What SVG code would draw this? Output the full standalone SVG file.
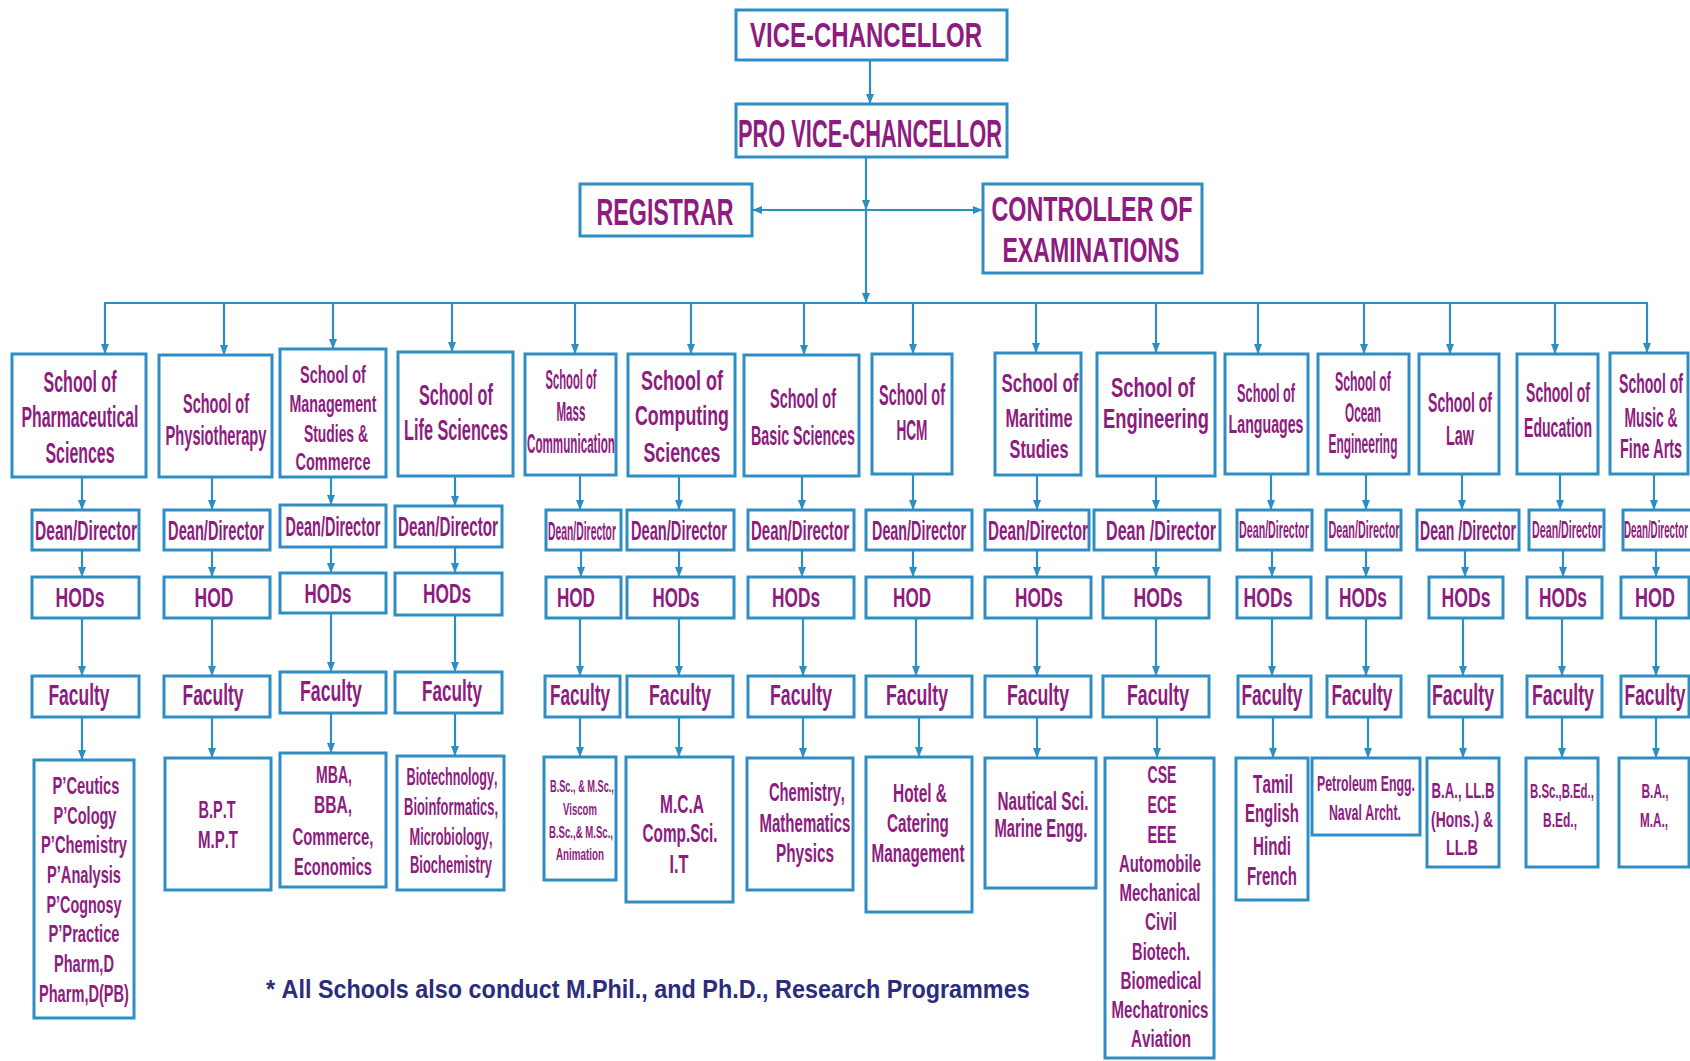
<svg xmlns="http://www.w3.org/2000/svg" width="1690" height="1061" viewBox="0 0 1690 1061">
<defs>
<style>
.box{fill:#ffffff;stroke:#2e8ec4;stroke-width:3}
.t{font-family:"Liberation Sans",Arial,sans-serif;font-weight:bold;fill:#8e1b7e;text-anchor:middle;font-kerning:none}
.c{fill:none;stroke:#2e8ec4;stroke-width:2.2}
.a{marker-end:url(#ah)}
.note{font-family:"Liberation Sans",Arial,sans-serif;font-weight:bold;fill:#2b2d7c;font-kerning:none}
</style>
<marker id="ah" markerWidth="10" markerHeight="10" refX="9" refY="5" orient="auto" markerUnits="userSpaceOnUse">
<path d="M0,1 L10,5 L0,9 z" fill="#2e8ec4"/>
</marker>
</defs>
<rect width="1690" height="1061" fill="#ffffff"/>

<g id="connectors">
<path class="c a" d="M870,61 V103"/>
<path class="c a" d="M866,158 V209"/>
<path class="c a" d="M866,210 V302"/>
<path class="c a" d="M866,210 H753"/>
<path class="c a" d="M866,210 H982"/>
<path class="c" d="M104,303 H1648"/>
<path class="c a" d="M105,303 V353"/>
<path class="c a" d="M224,303 V354"/>
<path class="c a" d="M333,303 V348"/>
<path class="c a" d="M452,303 V351"/>
<path class="c a" d="M575,303 V353"/>
<path class="c a" d="M691,303 V353"/>
<path class="c a" d="M804,303 V354"/>
<path class="c a" d="M913,303 V353"/>
<path class="c a" d="M1036,303 V352"/>
<path class="c a" d="M1156,303 V352"/>
<path class="c a" d="M1258,303 V353"/>
<path class="c a" d="M1364,303 V353"/>
<path class="c a" d="M1450,303 V353"/>
<path class="c a" d="M1555,303 V353"/>
<path class="c a" d="M1647,303 V352"/>
<path class="c a" d="M82,477 V509"/><path class="c a" d="M82,550 V576"/><path class="c a" d="M82,618 V675"/><path class="c a" d="M82,717 V759"/>
<path class="c a" d="M212,477 V509"/><path class="c a" d="M212,550 V576"/><path class="c a" d="M212,618 V675"/><path class="c a" d="M212,717 V757"/>
<path class="c a" d="M331,477 V504"/><path class="c a" d="M331,547 V572"/><path class="c a" d="M331,613 V671"/><path class="c a" d="M331,713 V752"/>
<path class="c a" d="M455,476 V505"/><path class="c a" d="M455,547 V572"/><path class="c a" d="M455,615 V671"/><path class="c a" d="M455,713 V755"/>
<path class="c a" d="M580,475 V509"/><path class="c a" d="M581,550 V576"/><path class="c a" d="M580,618 V675"/><path class="c a" d="M580,717 V756"/>
<path class="c a" d="M679,476 V509"/><path class="c a" d="M679,550 V576"/><path class="c a" d="M679,618 V675"/><path class="c a" d="M679,717 V756"/>
<path class="c a" d="M802,476 V509"/><path class="c a" d="M802,550 V576"/><path class="c a" d="M803,618 V675"/><path class="c a" d="M803,717 V757"/>
<path class="c a" d="M913,474 V509"/><path class="c a" d="M913,550 V576"/><path class="c a" d="M916,618 V675"/><path class="c a" d="M919,717 V756"/>
<path class="c a" d="M1037,475 V509"/><path class="c a" d="M1037,550 V576"/><path class="c a" d="M1037,618 V675"/><path class="c a" d="M1037,717 V757"/>
<path class="c a" d="M1156,476 V509"/><path class="c a" d="M1156,550 V576"/><path class="c a" d="M1156,618 V675"/><path class="c a" d="M1157,717 V757"/>
<path class="c a" d="M1271,474 V509"/><path class="c a" d="M1272,550 V576"/><path class="c a" d="M1272,618 V675"/><path class="c a" d="M1273,717 V757"/>
<path class="c a" d="M1366,474 V509"/><path class="c a" d="M1366,550 V576"/><path class="c a" d="M1366,618 V675"/><path class="c a" d="M1368,717 V757"/>
<path class="c a" d="M1462,474 V509"/><path class="c a" d="M1465,550 V576"/><path class="c a" d="M1463,618 V675"/><path class="c a" d="M1463,717 V757"/>
<path class="c a" d="M1560,474 V509"/><path class="c a" d="M1563,550 V576"/><path class="c a" d="M1562,618 V675"/><path class="c a" d="M1562,717 V757"/>
<path class="c a" d="M1654,474 V509"/><path class="c a" d="M1656,550 V576"/><path class="c a" d="M1656,618 V675"/><path class="c a" d="M1656,717 V757"/>
</g>

<g id="vice-chancellor"><rect class="box" x="736" y="10" width="271" height="50"/><text class="t" font-size="35" x="866" y="47" transform="matrix(0.6858,0,0,1,272.1,0)">VICE-CHANCELLOR</text></g>
<g id="pro-vice-chancellor"><rect class="box" x="736" y="104" width="271" height="53"/><text class="t" font-size="38" x="870" y="147" transform="matrix(0.5737,0,0,1,370.9,0)">PRO VICE-CHANCELLOR</text></g>
<g id="registrar"><rect class="box" x="580" y="184" width="172" height="52"/><text class="t" font-size="37" x="665" y="225" transform="matrix(0.6287,0,0,1,246.9,0)">REGISTRAR</text></g>
<g id="controller"><rect class="box" x="983" y="184" width="219" height="89"/><text class="t" font-size="36" x="1092" y="221" transform="matrix(0.6484,0,0,1,383.9,0)">CONTROLLER OF</text><text class="t" font-size="36" x="1091" y="262" transform="matrix(0.6413,0,0,1,391.3,0)">EXAMINATIONS</text></g>

<g id="school-pharm"><rect class="box" x="12" y="354" width="134" height="123"/>
<text class="t" font-size="29" x="80" y="392" transform="matrix(0.5526,0,0,1,35.8,0)">School of</text>
<text class="t" font-size="29" x="80" y="427" transform="matrix(0.5457,0,0,1,36.3,0)">Pharmaceutical</text>
<text class="t" font-size="29" x="80" y="463" transform="matrix(0.5489,0,0,1,36.1,0)">Sciences</text></g>
<g id="school-physio"><rect class="box" x="159" y="355" width="113" height="122"/>
<text class="t" font-size="28" x="216" y="413" transform="matrix(0.5173,0,0,1,104.3,0)">School of</text>
<text class="t" font-size="28" x="216" y="445" transform="matrix(0.5236,0,0,1,102.9,0)">Physiotherapy</text></g>
<g id="school-mgmt"><rect class="box" x="280" y="349" width="106" height="128"/>
<text class="t" font-size="24" x="333" y="383" transform="matrix(0.6038,0,0,1,131.9,0)">School of</text>
<text class="t" font-size="24" x="333" y="412" transform="matrix(0.5931,0,0,1,135.5,0)">Management</text>
<text class="t" font-size="24" x="336" y="442" transform="matrix(0.5782,0,0,1,141.7,0)">Studies &amp;</text>
<text class="t" font-size="24" x="333" y="470" transform="matrix(0.6048,0,0,1,131.6,0)">Commerce</text></g>
<g id="school-life"><rect class="box" x="398" y="352" width="115" height="124"/>
<text class="t" font-size="29" x="456" y="405" transform="matrix(0.5602,0,0,1,200.5,0)">School of</text>
<text class="t" font-size="29" x="456" y="440" transform="matrix(0.5610,0,0,1,200.2,0)">Life Sciences</text></g>
<g id="school-mass"><rect class="box" x="525" y="354" width="91" height="121"/>
<text class="t" font-size="28" x="571" y="389" transform="matrix(0.3997,0,0,1,342.8,0)">School of</text>
<text class="t" font-size="28" x="571" y="421" transform="matrix(0.4143,0,0,1,334.4,0)">Mass</text>
<text class="t" font-size="28" x="571" y="453" transform="matrix(0.4159,0,0,1,333.5,0)">Communication</text></g>
<g id="school-computing"><rect class="box" x="628" y="354" width="107" height="122"/>
<text class="t" font-size="28" x="682" y="390" transform="matrix(0.6426,0,0,1,243.7,0)">School of</text>
<text class="t" font-size="28" x="682" y="425" transform="matrix(0.6360,0,0,1,248.2,0)">Computing</text>
<text class="t" font-size="28" x="682" y="462" transform="matrix(0.6343,0,0,1,249.4,0)">Sciences</text></g>
<g id="school-basic"><rect class="box" x="744" y="355" width="115" height="121"/>
<text class="t" font-size="28" x="803" y="408" transform="matrix(0.5172,0,0,1,387.7,0)">School of</text>
<text class="t" font-size="28" x="803" y="445" transform="matrix(0.5101,0,0,1,393.4,0)">Basic Sciences</text></g>
<g id="school-hcm"><rect class="box" x="872" y="354" width="80" height="120"/>
<text class="t" font-size="29" x="912" y="405" transform="matrix(0.4996,0,0,1,456.4,0)">School of</text>
<text class="t" font-size="29" x="912" y="440" transform="matrix(0.4697,0,0,1,483.6,0)">HCM</text></g>
<g id="school-maritime"><rect class="box" x="995" y="353" width="86" height="122"/>
<text class="t" font-size="26" x="1040" y="392" transform="matrix(0.6498,0,0,1,364.2,0)">School of</text>
<text class="t" font-size="26" x="1039" y="427" transform="matrix(0.6268,0,0,1,387.8,0)">Maritime</text>
<text class="t" font-size="26" x="1039" y="458" transform="matrix(0.6283,0,0,1,386.2,0)">Studies</text></g>
<g id="school-engineering"><rect class="box" x="1097" y="353" width="118" height="123"/>
<text class="t" font-size="27" x="1153" y="397" transform="matrix(0.6829,0,0,1,365.6,0)">School of</text>
<text class="t" font-size="27" x="1156" y="428" transform="matrix(0.6795,0,0,1,370.5,0)">Engineering</text></g>
<g id="school-languages"><rect class="box" x="1225" y="354" width="83" height="120"/>
<text class="t" font-size="25" x="1266" y="402" transform="matrix(0.5092,0,0,1,621.4,0)">School of</text>
<text class="t" font-size="25" x="1266" y="433" transform="matrix(0.5682,0,0,1,546.7,0)">Languages</text></g>
<g id="school-ocean"><rect class="box" x="1318" y="354" width="91" height="120"/>
<text class="t" font-size="27" x="1363" y="391" transform="matrix(0.4553,0,0,1,742.4,0)">School of</text>
<text class="t" font-size="27" x="1363" y="422" transform="matrix(0.4363,0,0,1,768.3,0)">Ocean</text>
<text class="t" font-size="27" x="1363" y="453" transform="matrix(0.4423,0,0,1,760.1,0)">Engineering</text></g>
<g id="school-law"><rect class="box" x="1419" y="354" width="80" height="120"/>
<text class="t" font-size="28" x="1460" y="412" transform="matrix(0.5016,0,0,1,727.7,0)">School of</text>
<text class="t" font-size="28" x="1460" y="445" transform="matrix(0.5138,0,0,1,709.9,0)">Law</text></g>
<g id="school-education"><rect class="box" x="1517" y="354" width="81" height="120"/>
<text class="t" font-size="28" x="1558" y="402" transform="matrix(0.5016,0,0,1,776.5,0)">School of</text>
<text class="t" font-size="28" x="1558" y="437" transform="matrix(0.5022,0,0,1,775.6,0)">Education</text></g>
<g id="school-music"><rect class="box" x="1610" y="353" width="78" height="121"/>
<text class="t" font-size="27" x="1651" y="393" transform="matrix(0.52,0,0,1,792.48,0)">School of</text>
<text class="t" font-size="27" x="1651" y="427" transform="matrix(0.512,0,0,1,805.69,0)">Music &amp;</text>
<text class="t" font-size="27" x="1651" y="458" transform="matrix(0.53,0,0,1,775.97,0)">Fine Arts</text></g>

<g id="dean-pharm"><rect class="box" x="32" y="510" width="107" height="40"/><text class="t" font-size="28" x="86" y="540" transform="matrix(0.5556,0,0,1,38.2,0)">Dean/Director</text></g>
<g id="dean-physio"><rect class="box" x="164" y="510" width="106" height="40"/><text class="t" font-size="28" x="216" y="540" transform="matrix(0.5229,0,0,1,103.1,0)">Dean/Director</text></g>
<g id="dean-mgmt"><rect class="box" x="280" y="505" width="106" height="42"/><text class="t" font-size="28" x="333" y="536" transform="matrix(0.5174,0,0,1,160.7,0)">Dean/Director</text></g>
<g id="dean-life"><rect class="box" x="395" y="506" width="107" height="41"/><text class="t" font-size="28" x="448" y="536" transform="matrix(0.5447,0,0,1,204.0,0)">Dean/Director</text></g>
<g id="dean-mass"><rect class="box" x="546" y="510" width="75" height="40"/><text class="t" font-size="26" x="582" y="540" transform="matrix(0.3988,0,0,1,349.9,0)">Dean/Director</text></g>
<g id="dean-computing"><rect class="box" x="627" y="510" width="107" height="40"/><text class="t" font-size="28" x="679" y="540" transform="matrix(0.5229,0,0,1,323.9,0)">Dean/Director</text></g>
<g id="dean-basic"><rect class="box" x="748" y="510" width="106" height="40"/><text class="t" font-size="28" x="800" y="540" transform="matrix(0.5338,0,0,1,373.0,0)">Dean/Director</text></g>
<g id="dean-hcm"><rect class="box" x="866" y="510" width="106" height="40"/><text class="t" font-size="28" x="919" y="540" transform="matrix(0.5120,0,0,1,448.5,0)">Dean/Director</text></g>
<g id="dean-maritime"><rect class="box" x="985" y="510" width="104" height="40"/><text class="t" font-size="28" x="1038" y="540" transform="matrix(0.5447,0,0,1,472.6,0)">Dean/Director</text></g>
<g id="dean-engineering"><rect class="box" x="1094" y="510" width="126" height="40"/><text class="t" font-size="28" x="1161" y="540" transform="matrix(0.5747,0,0,1,493.8,0)">Dean /Director</text></g>
<g id="dean-languages"><rect class="box" x="1237" y="510" width="75" height="40"/><text class="t" font-size="24" x="1274" y="538" transform="matrix(0.4447,0,0,1,707.5,0)">Dean/Director</text></g>
<g id="dean-ocean"><rect class="box" x="1326" y="510" width="75" height="40"/><text class="t" font-size="24" x="1364" y="538" transform="matrix(0.4511,0,0,1,748.7,0)">Dean/Director</text></g>
<g id="dean-law"><rect class="box" x="1417" y="510" width="102" height="40"/><text class="t" font-size="28" x="1468" y="540" transform="matrix(0.5016,0,0,1,731.7,0)">Dean /Director</text></g>
<g id="dean-education"><rect class="box" x="1529" y="510" width="75" height="40"/><text class="t" font-size="24" x="1567" y="538" transform="matrix(0.4447,0,0,1,870.2,0)">Dean/Director</text></g>
<g id="dean-music"><rect class="box" x="1623" y="510" width="80" height="40"/><text class="t" font-size="24" x="1656" y="538" transform="matrix(0.4066,0,0,1,982.7,0)">Dean/Director</text></g>

<g id="hod-pharm"><rect class="box" x="32" y="577" width="107" height="41"/><text class="t" font-size="28" x="80" y="607" transform="matrix(0.6298,0,0,1,29.6,0)">HODs</text></g>
<g id="hod-physio"><rect class="box" x="164" y="577" width="106" height="41"/><text class="t" font-size="28" x="214" y="607" transform="matrix(0.6270,0,0,1,79.8,0)">HOD</text></g>
<g id="hod-mgmt"><rect class="box" x="280" y="573" width="106" height="40"/><text class="t" font-size="28" x="328" y="603" transform="matrix(0.6041,0,0,1,129.9,0)">HODs</text></g>
<g id="hod-life"><rect class="box" x="395" y="573" width="107" height="42"/><text class="t" font-size="28" x="447" y="603" transform="matrix(0.6170,0,0,1,171.2,0)">HODs</text></g>
<g id="hod-mass"><rect class="box" x="546" y="577" width="75" height="41"/><text class="t" font-size="28" x="576" y="607" transform="matrix(0.6109,0,0,1,224.1,0)">HOD</text></g>
<g id="hod-computing"><rect class="box" x="627" y="577" width="107" height="41"/><text class="t" font-size="28" x="676" y="607" transform="matrix(0.6041,0,0,1,267.6,0)">HODs</text></g>
<g id="hod-basic"><rect class="box" x="748" y="577" width="106" height="41"/><text class="t" font-size="28" x="796" y="607" transform="matrix(0.6170,0,0,1,304.9,0)">HODs</text></g>
<g id="hod-hcm"><rect class="box" x="866" y="577" width="106" height="41"/><text class="t" font-size="28" x="912" y="607" transform="matrix(0.6109,0,0,1,354.9,0)">HOD</text></g>
<g id="hod-maritime"><rect class="box" x="985" y="577" width="106" height="41"/><text class="t" font-size="28" x="1039" y="607" transform="matrix(0.6170,0,0,1,397.9,0)">HODs</text></g>
<g id="hod-engineering"><rect class="box" x="1103" y="577" width="106" height="41"/><text class="t" font-size="28" x="1158" y="607" transform="matrix(0.6298,0,0,1,428.7,0)">HODs</text></g>
<g id="hod-languages"><rect class="box" x="1237" y="577" width="74" height="41"/><text class="t" font-size="28" x="1268" y="607" transform="matrix(0.6298,0,0,1,469.4,0)">HODs</text></g>
<g id="hod-ocean"><rect class="box" x="1327" y="577" width="74" height="41"/><text class="t" font-size="28" x="1363" y="607" transform="matrix(0.6170,0,0,1,522.0,0)">HODs</text></g>
<g id="hod-law"><rect class="box" x="1429" y="577" width="74" height="41"/><text class="t" font-size="28" x="1466" y="607" transform="matrix(0.6298,0,0,1,542.7,0)">HODs</text></g>
<g id="hod-education"><rect class="box" x="1527" y="577" width="75" height="41"/><text class="t" font-size="28" x="1563" y="607" transform="matrix(0.6170,0,0,1,598.6,0)">HODs</text></g>
<g id="hod-music"><rect class="box" x="1621" y="577" width="68" height="41"/><text class="t" font-size="28" x="1655" y="607" transform="matrix(0.6431,0,0,1,590.7,0)">HOD</text></g>

<g id="faculty-pharm"><rect class="box" x="32" y="676" width="107" height="41"/><text class="t" font-size="29" x="79" y="705" transform="matrix(0.6010,0,0,1,31.5,0)">Faculty</text></g>
<g id="faculty-physio"><rect class="box" x="164" y="676" width="106" height="41"/><text class="t" font-size="29" x="213" y="705" transform="matrix(0.6010,0,0,1,85.0,0)">Faculty</text></g>
<g id="faculty-mgmt"><rect class="box" x="280" y="672" width="106" height="41"/><text class="t" font-size="29" x="331" y="701" transform="matrix(0.6108,0,0,1,128.8,0)">Faculty</text></g>
<g id="faculty-life"><rect class="box" x="395" y="672" width="107" height="41"/><text class="t" font-size="29" x="452" y="701" transform="matrix(0.5911,0,0,1,184.8,0)">Faculty</text></g>
<g id="faculty-mass"><rect class="box" x="545" y="676" width="75" height="41"/><text class="t" font-size="29" x="580" y="705" transform="matrix(0.5911,0,0,1,237.2,0)">Faculty</text></g>
<g id="faculty-computing"><rect class="box" x="627" y="676" width="106" height="41"/><text class="t" font-size="29" x="680" y="705" transform="matrix(0.6108,0,0,1,264.7,0)">Faculty</text></g>
<g id="faculty-basic"><rect class="box" x="748" y="676" width="106" height="41"/><text class="t" font-size="29" x="801" y="705" transform="matrix(0.6108,0,0,1,311.8,0)">Faculty</text></g>
<g id="faculty-hcm"><rect class="box" x="866" y="676" width="106" height="41"/><text class="t" font-size="29" x="917" y="705" transform="matrix(0.6108,0,0,1,356.9,0)">Faculty</text></g>
<g id="faculty-maritime"><rect class="box" x="985" y="676" width="106" height="41"/><text class="t" font-size="29" x="1038" y="705" transform="matrix(0.6108,0,0,1,404.0,0)">Faculty</text></g>
<g id="faculty-engineering"><rect class="box" x="1103" y="676" width="106" height="41"/><text class="t" font-size="29" x="1158" y="705" transform="matrix(0.6108,0,0,1,450.7,0)">Faculty</text></g>
<g id="faculty-languages"><rect class="box" x="1238" y="676" width="73" height="41"/><text class="t" font-size="29" x="1272" y="705" transform="matrix(0.6010,0,0,1,507.5,0)">Faculty</text></g>
<g id="faculty-ocean"><rect class="box" x="1327" y="676" width="74" height="41"/><text class="t" font-size="29" x="1362" y="705" transform="matrix(0.6010,0,0,1,543.4,0)">Faculty</text></g>
<g id="faculty-law"><rect class="box" x="1429" y="676" width="73" height="41"/><text class="t" font-size="29" x="1463" y="705" transform="matrix(0.6108,0,0,1,569.4,0)">Faculty</text></g>
<g id="faculty-education"><rect class="box" x="1527" y="676" width="75" height="41"/><text class="t" font-size="29" x="1563" y="705" transform="matrix(0.6108,0,0,1,608.3,0)">Faculty</text></g>
<g id="faculty-music"><rect class="box" x="1621" y="676" width="68" height="41"/><text class="t" font-size="29" x="1655" y="705" transform="matrix(0.601,0,0,1,660.35,0)">Faculty</text></g>

<g id="prog-pharm"><rect class="box" x="34" y="760" width="100" height="258"/>
<text class="t" font-size="24" x="86" y="794" transform="matrix(0.6126,0,0,1,33.3,0)">P’Ceutics</text>
<text class="t" font-size="24" x="85" y="824" transform="matrix(0.6057,0,0,1,33.5,0)">P’Cology</text>
<text class="t" font-size="24" x="84" y="853" transform="matrix(0.6141,0,0,1,32.4,0)">P’Chemistry</text>
<text class="t" font-size="24" x="84" y="883" transform="matrix(0.6096,0,0,1,32.8,0)">P’Analysis</text>
<text class="t" font-size="24" x="84" y="913" transform="matrix(0.5983,0,0,1,33.7,0)">P’Cognosy</text>
<text class="t" font-size="24" x="84" y="942" transform="matrix(0.6117,0,0,1,32.6,0)">P’Practice</text>
<text class="t" font-size="24" x="84" y="972" transform="matrix(0.6079,0,0,1,32.9,0)">Pharm,D</text>
<text class="t" font-size="24" x="84" y="1002" transform="matrix(0.6081,0,0,1,32.9,0)">Pharm,D(PB)</text></g>
<g id="prog-physio"><rect class="box" x="165" y="758" width="106" height="132"/>
<text class="t" font-size="24" x="217" y="818" transform="matrix(0.6034,0,0,1,86.1,0)">B.P.T</text>
<text class="t" font-size="24" x="218" y="848" transform="matrix(0.6250,0,0,1,81.8,0)">M.P.T</text></g>
<g id="prog-mgmt"><rect class="box" x="280" y="753" width="106" height="134"/>
<text class="t" font-size="24" x="334" y="783" transform="matrix(0.5871,0,0,1,137.9,0)">MBA,</text>
<text class="t" font-size="24" x="333" y="813" transform="matrix(0.6478,0,0,1,117.3,0)">BBA,</text>
<text class="t" font-size="24" x="333" y="845" transform="matrix(0.6197,0,0,1,126.6,0)">Commerce,</text>
<text class="t" font-size="24" x="333" y="875" transform="matrix(0.6092,0,0,1,130.1,0)">Economics</text></g>
<g id="prog-life"><rect class="box" x="397" y="756" width="107" height="134"/>
<text class="t" font-size="23" x="452" y="785" transform="matrix(0.5478,0,0,1,204.4,0)">Biotechnology,</text>
<text class="t" font-size="23" x="451" y="815" transform="matrix(0.5615,0,0,1,197.8,0)">Bioinformatics,</text>
<text class="t" font-size="23" x="451" y="845" transform="matrix(0.5552,0,0,1,200.6,0)">Microbiology,</text>
<text class="t" font-size="23" x="451" y="873" transform="matrix(0.5628,0,0,1,197.2,0)">Biochemistry</text></g>
<g id="prog-mass"><rect class="box" x="544" y="757" width="72" height="123"/>
<text class="t" font-size="17" x="582" y="792" transform="matrix(0.5419,0,0,1,266.6,0)">B.Sc., &amp; M.Sc.,</text>
<text class="t" font-size="17" x="580" y="815" transform="matrix(0.5620,0,0,1,254.0,0)">Viscom</text>
<text class="t" font-size="17" x="581" y="838" transform="matrix(0.5644,0,0,1,253.1,0)">B.Sc.,&amp; M.Sc.,</text>
<text class="t" font-size="17" x="580" y="860" transform="matrix(0.5776,0,0,1,245.0,0)">Animation</text></g>
<g id="prog-computing"><rect class="box" x="626" y="757" width="107" height="145"/>
<text class="t" font-size="25" x="682" y="813" transform="matrix(0.6215,0,0,1,258.1,0)">M.C.A</text>
<text class="t" font-size="25" x="680" y="842" transform="matrix(0.6135,0,0,1,262.8,0)">Comp.Sci.</text>
<text class="t" font-size="25" x="679" y="873" transform="matrix(0.6512,0,0,1,236.8,0)">I.T</text></g>
<g id="prog-basic"><rect class="box" x="747" y="758" width="106" height="132"/>
<text class="t" font-size="25" x="807" y="801" transform="matrix(0.5882,0,0,1,332.3,0)">Chemistry,</text>
<text class="t" font-size="25" x="805" y="832" transform="matrix(0.6010,0,0,1,321.2,0)">Mathematics</text>
<text class="t" font-size="25" x="805" y="862" transform="matrix(0.6138,0,0,1,310.9,0)">Physics</text></g>
<g id="prog-hcm"><rect class="box" x="866" y="757" width="106" height="155"/>
<text class="t" font-size="25" x="920" y="802" transform="matrix(0.6171,0,0,1,352.3,0)">Hotel &amp;</text>
<text class="t" font-size="25" x="918" y="832" transform="matrix(0.6114,0,0,1,356.7,0)">Catering</text>
<text class="t" font-size="25" x="918" y="862" transform="matrix(0.6086,0,0,1,359.3,0)">Management</text></g>
<g id="prog-maritime"><rect class="box" x="985" y="758" width="111" height="130"/>
<text class="t" font-size="25" x="1043" y="810" transform="matrix(0.6120,0,0,1,404.7,0)">Nautical Sci.</text>
<text class="t" font-size="25" x="1041" y="837" transform="matrix(0.5924,0,0,1,424.3,0)">Marine Engg.</text></g>
<g id="prog-engineering"><rect class="box" x="1105" y="758" width="109" height="300"/>
<text class="t" font-size="24" x="1162" y="783" transform="matrix(0.5882,0,0,1,478.5,0)">CSE</text>
<text class="t" font-size="24" x="1162" y="813" transform="matrix(0.5882,0,0,1,478.5,0)">ECE</text>
<text class="t" font-size="24" x="1162" y="843" transform="matrix(0.6041,0,0,1,460.0,0)">EEE</text>
<text class="t" font-size="24" x="1160" y="872" transform="matrix(0.6212,0,0,1,439.4,0)">Automobile</text>
<text class="t" font-size="24" x="1160" y="901" transform="matrix(0.6260,0,0,1,433.8,0)">Mechanical</text>
<text class="t" font-size="24" x="1161" y="930" transform="matrix(0.6312,0,0,1,428.2,0)">Civil</text>
<text class="t" font-size="24" x="1161" y="960" transform="matrix(0.6125,0,0,1,449.9,0)">Biotech.</text>
<text class="t" font-size="24" x="1161" y="989" transform="matrix(0.6328,0,0,1,426.3,0)">Biomedical</text>
<text class="t" font-size="24" x="1160" y="1018" transform="matrix(0.6270,0,0,1,432.7,0)">Mechatronics</text>
<text class="t" font-size="24" x="1161" y="1047" transform="matrix(0.6336,0,0,1,425.4,0)">Aviation</text></g>
<g id="prog-languages"><rect class="box" x="1236" y="758" width="72" height="142"/>
<text class="t" font-size="25" x="1273" y="793" transform="matrix(0.6126,0,0,1,493.2,0)">Tamil</text>
<text class="t" font-size="25" x="1272" y="822" transform="matrix(0.5980,0,0,1,511.3,0)">English</text>
<text class="t" font-size="25" x="1272" y="855" transform="matrix(0.6080,0,0,1,498.6,0)">Hindi</text>
<text class="t" font-size="25" x="1272" y="885" transform="matrix(0.5995,0,0,1,509.4,0)">French</text></g>
<g id="prog-ocean"><rect class="box" x="1312" y="758" width="108" height="77"/>
<text class="t" font-size="22" x="1366" y="791" transform="matrix(0.5606,0,0,1,600.2,0)">Petroleum Engg.</text>
<text class="t" font-size="22" x="1365" y="820" transform="matrix(0.5607,0,0,1,599.6,0)">Naval Archt.</text></g>
<g id="prog-law"><rect class="box" x="1427" y="758" width="72" height="109"/>
<text class="t" font-size="22" x="1463" y="798" transform="matrix(0.5994,0,0,1,586.1,0)">B.A., LL.B</text>
<text class="t" font-size="22" x="1462" y="827" transform="matrix(0.6340,0,0,1,535.1,0)">(Hons.) &amp;</text>
<text class="t" font-size="22" x="1462" y="855" transform="matrix(0.6544,0,0,1,505.3,0)">LL.B</text></g>
<g id="prog-education"><rect class="box" x="1526" y="758" width="72" height="109"/>
<text class="t" font-size="21" x="1562" y="798" transform="matrix(0.5428,0,0,1,714.1,0)">B.Sc.,B.Ed.,</text>
<text class="t" font-size="21" x="1560" y="827" transform="matrix(0.5714,0,0,1,668.6,0)">B.Ed.,</text></g>
<g id="prog-music"><rect class="box" x="1619" y="758" width="70" height="109"/>
<text class="t" font-size="21" x="1655" y="798" transform="matrix(0.5648,0,0,1,720.3,0)">B.A.,</text>
<text class="t" font-size="21" x="1654" y="827" transform="matrix(0.5578,0,0,1,731.4,0)">M.A.,</text></g>

<text id="footnote" class="note" font-size="26" x="266" y="998" transform="matrix(0.899,0,0,1,26.87,0)">* All Schools also conduct M.Phil., and Ph.D., Research Programmes</text>
</svg>
